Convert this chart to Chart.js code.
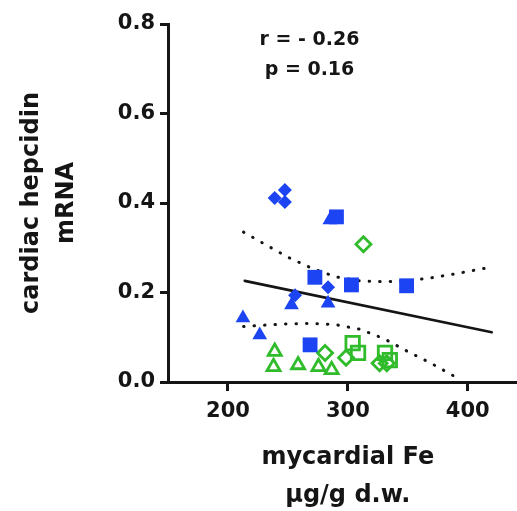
<!DOCTYPE html>
<html>
<head>
<meta charset="utf-8">
<script src="https://cdn.jsdelivr.net/npm/chart.js@4/dist/chart.umd.min.js"></script>
<style>
  body { margin: 0; background: #fff; overflow: hidden; }
  #wrap { width: 540px; height: 515px; }
</style>
</head>
<body>
<div id="wrap"><canvas id="chart" width="540" height="515"></canvas></div>
<script>
// ticks
const xTickValues = [200, 300, 400];
const yTickValues = [0, 0.2, 0.4, 0.6, 0.8];

// blue filled markers
const blueDiamondX = [239, 247.5, 247.5, 256, 283.5];
const blueDiamondY = [0.411, 0.429, 0.402, 0.194, 0.212];
const blueSquareX = [290.5, 272.5, 303, 349, 268.5];
const blueSquareY = [0.369, 0.234, 0.217, 0.215, 0.083];
const blueTriangleX = [285, 253, 283.5, 212.5, 226.5];
const blueTriangleY = [0.362, 0.172, 0.176, 0.143, 0.105];

// green open markers
const greenTriangleX = [239, 238, 258.5, 275.5, 286.5];
const greenTriangleY = [0.068, 0.034, 0.038, 0.034, 0.027];
const greenDiamondX = [313, 281, 298.5, 326.5, 332.5];
const greenDiamondY = [0.308, 0.065, 0.054, 0.042, 0.042];
const greenSquareX = [304, 308.5, 331, 335];
const greenSquareY = [0.087, 0.065, 0.065, 0.049];

// regression line + confidence band
const fitX = [214, 420];
const fitY = [0.226, 0.111];
const upperX = [213, 230, 250, 270, 290, 310, 330, 350, 370, 390, 420];
const upperY = [0.335, 0.309, 0.279, 0.254, 0.235, 0.226, 0.224, 0.226, 0.233, 0.242, 0.257];
const lowerX = [213, 230, 250, 270, 290, 310, 330, 350, 370, 392];
const lowerY = [0.124, 0.127, 0.130, 0.131, 0.128, 0.118, 0.097, 0.068, 0.041, 0.008];

const statLines = ['r = - 0.26', 'p = 0.16'];

const BLUE = '#1c44f2';
const GREEN = '#2fbb2a';
const INK = '#151515';
const FONT = '"DejaVu Sans", "Liberation Sans", Arial, sans-serif';

function pts(xs, ys) {
    return xs.map((x, i) => ({ x: x, y: ys[i] }));
}

function marker(xs, ys, style, radius, filled) {
    return {
        data: pts(xs, ys),
        showLine: false,
        pointStyle: style,
        pointRadius: radius,
        pointBackgroundColor: filled ? BLUE : 'rgba(0,0,0,0)',
        pointBorderColor: filled ? BLUE : GREEN,
        pointBorderWidth: filled ? 0 : 2.8,
        clip: false
    };
}

function curve(xs, ys, dotted) {
    return {
        data: pts(xs, ys),
        showLine: true,
        pointRadius: 0,
        borderColor: INK,
        borderWidth: dotted ? 3 : 2.6,
        borderDash: dotted ? [0.5, 10] : [],
        borderCapStyle: 'round',
        tension: 0
    };
}

// texte r / p dans le graphique
const statsPlugin = {
    id: 'stats',
    afterDraw(chart) {
        const ctx = chart.ctx;
        const sx = chart.scales.x;
        const sy = chart.scales.y;
        ctx.save();
        ctx.font = 'bold 19px ' + FONT;
        ctx.fillStyle = INK;
        ctx.textAlign = 'center';
        ctx.textBaseline = 'middle';
        ctx.fillText(statLines[0], sx.getPixelForValue(268), sy.getPixelForValue(0.764));
        ctx.fillText(statLines[1], sx.getPixelForValue(268), sy.getPixelForValue(0.697));
        ctx.restore();
    }
};

const axisGrid = {
    drawOnChartArea: false,
    drawTicks: true,
    tickWidth: 3,
    tickColor: INK
};

new Chart(document.getElementById('chart'), {
    type: 'scatter',
    data: {
        datasets: [
            marker(blueDiamondX, blueDiamondY, 'rectRot', 7, true),
            marker(blueSquareX, blueSquareY, 'rect', 10.5, true),
            marker(blueTriangleX, blueTriangleY, 'triangle', 8.5, true),
            marker(greenTriangleX, greenTriangleY, 'triangle', 7.5, false),
            marker(greenDiamondX, greenDiamondY, 'rectRot', 7.5, false),
            marker(greenSquareX, greenSquareY, 'rect', 9.5, false),
            curve(fitX, fitY, false),
            curve(upperX, upperY, true),
            curve(lowerX, lowerY, true)
        ]
    },
    options: {
        responsive: false,
        animation: false,
        layout: { padding: { top: 24, right: 12, bottom: 0, left: 0 } },
        plugins: {
            legend: { display: false },
            tooltip: { enabled: false }
        },
        scales: {
            x: {
                type: 'linear',
                min: 150,
                max: 450,
                afterBuildTicks: (s) => { s.ticks = xTickValues.map(v => ({ value: v })); },
                afterFit: (s) => { s.height = 133; },
                ticks: { color: INK, padding: 8, font: { family: FONT, size: 21, weight: 'bold' } },
                grid: Object.assign({ tickLength: 9 }, axisGrid),
                border: { display: true, color: INK, width: 3 },
                title: {
                    display: true,
                    text: ['mycardial Fe', 'µg/g d.w.'],
                    color: INK,
                    padding: { top: 0, bottom: 0 },
                    font: { family: FONT, size: 24, weight: 'bold', lineHeight: 38 / 24 }
                }
            },
            y: {
                type: 'linear',
                min: 0,
                max: 0.8,
                afterBuildTicks: (s) => { s.ticks = yTickValues.map(v => ({ value: v })); },
                afterFit: (s) => { s.width = 168; },
                ticks: {
                    color: INK,
                    padding: 5,
                    font: { family: FONT, size: 21, weight: 'bold' },
                    callback: (v) => Number(v).toFixed(1)
                },
                grid: Object.assign({ tickLength: 8 }, axisGrid),
                border: { display: true, color: INK, width: 3 },
                title: {
                    display: true,
                    text: ['cardiac hepcidin', 'mRNA'],
                    color: INK,
                    padding: { top: 14.5, bottom: 0 },
                    font: { family: FONT, size: 24, weight: 'bold', lineHeight: 35 / 24 }
                }
            }
        }
    },
    plugins: [statsPlugin]
});
</script>
</body>
</html>
